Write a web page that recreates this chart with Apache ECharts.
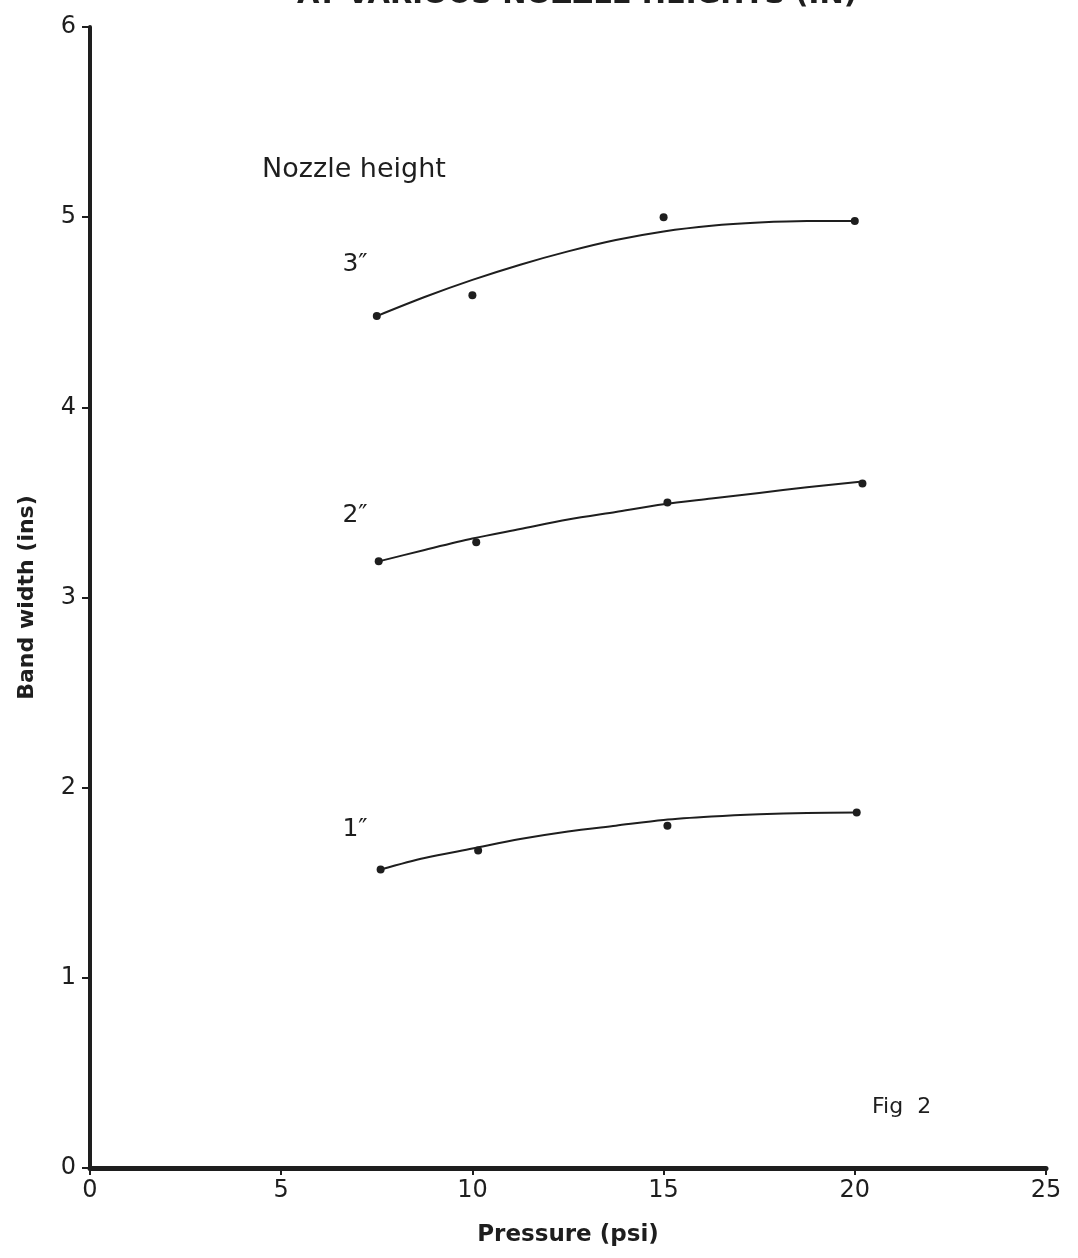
<!DOCTYPE html>
<html lang="en">
<head>
    <meta charset="utf-8" />
    <script src="https://cdn.jsdelivr.net/npm/echarts@6/dist/echarts.min.js"></script>
    <title>band_width_chart</title>
    <style>
        html, body { margin: 0; padding: 0; background: #fff; }
    </style>
</head>

<body>
<div id="main" style="width:1078px; height:1258px;"></div>
<script type="text/javascript">
    // measured points [pressure, band width]
    let points3 = [[7.5, 4.48], [10, 4.59], [15, 5.0], [20, 4.98]];
    let points2 = [[7.55, 3.19], [10.1, 3.29], [15.1, 3.5], [20.2, 3.6]];
    let points1 = [[7.6, 1.57], [10.15, 1.67], [15.1, 1.8], [20.05, 1.87]];

    // hand drawn fitted curves
    let curve3 = [[7.5, 4.48], [8.75, 4.58], [10, 4.67], [11.25, 4.75], [12.5, 4.82], [13.75, 4.88],
                  [15, 4.925], [16.25, 4.955], [17.5, 4.972], [18.75, 4.98], [20, 4.98]];
    let curve2 = [[7.55, 3.19], [8.75, 3.25], [10, 3.31], [11.25, 3.36], [12.5, 3.41], [13.75, 3.45],
                  [15, 3.49], [16.25, 3.52], [17.5, 3.55], [18.75, 3.58], [20.2, 3.61]];
    let curve1 = [[7.6, 1.57], [8.75, 1.63], [10, 1.68], [11.25, 1.73], [12.5, 1.77], [13.75, 1.80],
                  [15, 1.83], [16.25, 1.848], [17.5, 1.86], [18.75, 1.867], [20.05, 1.87]];

    let xTicks = [0, 5, 10, 15, 20, 25];
    let yTicks = [0, 1, 2, 3, 4, 5, 6];

    // text notes, placed in data coordinates
    let notes = [
        { text: 'Nozzle height', at: [4.5, 5.25], size: 27 },
        { text: '3\u2033', at: [6.6, 4.75], size: 25 },
        { text: '2\u2033', at: [6.6, 3.43], size: 25 },
        { text: '1\u2033', at: [6.6, 1.78], size: 25 },
        { text: 'Fig  2', at: [20.45, 0.32], size: 22 }
    ];

    let ink = '#1e1e1e';
    let font = '"DejaVu Sans", sans-serif';

    let myChart = echarts.init(document.getElementById('main'));

    function curveSeries(data) {
        return {
            type: 'line',
            data: data,
            smooth: 0.3,
            symbol: 'none',
            lineStyle: { color: ink, width: 2 },
            silent: true
        };
    }

    function pointSeries(data) {
        return {
            type: 'scatter',
            data: data,
            symbolSize: 8,
            itemStyle: { color: ink, opacity: 1 },
            silent: true
        };
    }

    option = {
        animation: false,
        backgroundColor: '#fff',
        grid: { left: 90, right: 32, top: 27, bottom: 90 },
        xAxis: {
            type: 'value',
            min: xTicks[0],
            max: xTicks[xTicks.length - 1],
            interval: 5,
            name: 'Pressure (psi)',
            nameLocation: 'middle',
            nameGap: 56,
            nameTextStyle: { color: ink, fontSize: 23, fontWeight: 'bold', fontFamily: font },
            axisLine: { lineStyle: { color: ink, width: 5 } },
            axisTick: { show: true, length: 7, lineStyle: { color: ink, width: 2 } },
            axisLabel: { color: ink, fontSize: 24, margin: 11, fontFamily: font },
            splitLine: { show: false }
        },
        yAxis: {
            type: 'value',
            min: yTicks[0],
            max: yTicks[yTicks.length - 1],
            interval: 1,
            name: 'Band width (ins)',
            nameLocation: 'middle',
            nameGap: 52,
            nameTextStyle: { color: ink, fontSize: 22, fontWeight: 'bold', fontFamily: font },
            axisLine: { show: true, lineStyle: { color: ink, width: 4 } },
            axisTick: { show: true, length: 8, lineStyle: { color: ink, width: 2 } },
            axisLabel: { color: ink, fontSize: 24, margin: 14, fontFamily: font },
            splitLine: { show: false }
        },
        series: [
            curveSeries(curve3), curveSeries(curve2), curveSeries(curve1),
            pointSeries(points3), pointSeries(points2), pointSeries(points1)
        ]
    };
    myChart.setOption(option);

    let graphics = [{
        type: 'text',
        left: 297,
        top: -19,
        style: {
            text: 'AT VARIOUS NOZZLE HEIGHTS (IN)',
            fill: ink,
            font: 'bold 29px ' + font
        }
    }];
    notes.forEach(function (n) {
        let p = myChart.convertToPixel({ gridIndex: 0 }, n.at);
        graphics.push({
            type: 'text',
            x: p[0],
            y: p[1],
            style: {
                text: n.text,
                fill: ink,
                font: n.size + 'px ' + font,
                verticalAlign: 'middle'
            }
        });
    });
    myChart.setOption({ graphic: graphics });
</script>
</body>
</html>
